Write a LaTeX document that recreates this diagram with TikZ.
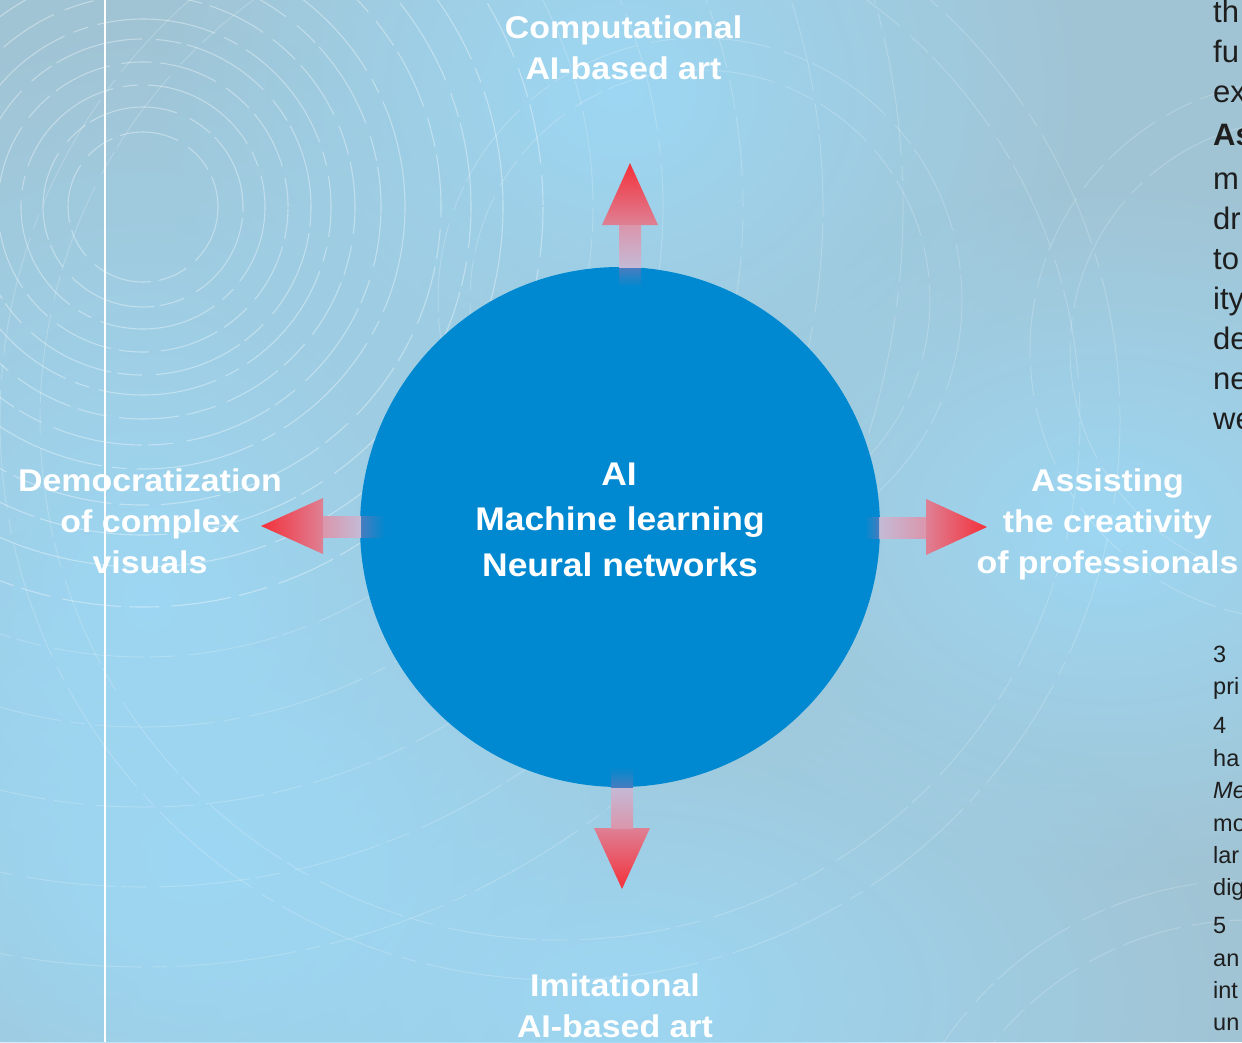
\documentclass[tikz,border=0pt]{standalone}
\usepackage{fontspec}
\setmainfont{Liberation Sans}
\newfontfamily\labelfont[FakeStretch=1.08]{Liberation Sans}
\usetikzlibrary{fadings}
\definecolor{bggrey}{RGB}{161,196,212}
\definecolor{bglight}{RGB}{157,215,243}
\definecolor{circblue}{RGB}{0,137,208}
\definecolor{arrred}{RGB}{244,48,58}
\definecolor{arrpink}{RGB}{222,128,148}
\definecolor{shaftpink}{RGB}{218,150,172}
\definecolor{shaftlav}{RGB}{196,186,214}
\definecolor{shaftblue}{RGB}{70,125,190}
\definecolor{bodytext}{RGB}{30,30,30}
\tikzfading[name=glowfade, inner color=transparent!0, outer color=transparent!100]
\begin{document}
\begin{tikzpicture}[x=1pt,y=-1pt,
  lbl/.style={font=\labelfont\bfseries\fontsize{31.4}{38}\selectfont, text=white, anchor=base, inner sep=0pt},
  corelbl/.style={font=\labelfont\bfseries\fontsize{32.8}{40}\selectfont, text=white, anchor=base, inner sep=0pt},
  body/.style={font=\fontsize{31}{37}\selectfont, text=bodytext, anchor=base west, inner sep=0pt},
  note/.style={font=\fontsize{23.5}{28}\selectfont, text=bodytext, anchor=base west, inner sep=0pt},
  deco/.style={draw=white, line width=1.1pt, draw opacity=0.36},
  decofaint/.style={draw=white, line width=1pt, draw opacity=0.2},
  dA/.style={dash pattern=on 60pt off 12pt on 30pt off 8pt},
  dB/.style={dash pattern=on 25pt off 6pt on 90pt off 14pt},
  dC/.style={dash pattern=on 120pt off 10pt on 15pt off 10pt},
  glow/.style={fill=bglight, path fading=glowfade}]
\useasboundingbox (0,0) rectangle (1242,1042);
\clip (0,0) rectangle (1242,1042);
% background
\fill[bggrey] (0,0) rectangle (1242,1042);
\fill[glow] (620,90) ellipse (470 and 420);
\fill[glow] (150,600) ellipse (520 and 580);
\fill[glow] (1110,530) ellipse (470 and 350);
\fill[glow] (620,1000) ellipse (620 and 380);
\fill[glow] (200,860) ellipse (440 and 360);
% decorative dashed circles, top left
\foreach \r/\s/\ph in {75/dA/0, 100/dB/20, 122/dC/40, 145/dA/70, 168/dB/5, 188/dC/90,
  212/dA/33, 238/dB/61, 262/dC/12, 298/dA/50, 328/dB/80, 360/dC/25, 400/dA/10}
  \draw[deco,\s,dash phase=\ph pt] (143,207) circle (\r);
\foreach \r/\s/\ph in {450/dB/0, 520/dC/30, 600/dA/60, 680/dB/15, 760/dC/45}
  \draw[decofaint,\s,dash phase=\ph pt] (143,207) circle (\r);
% decorative arcs, right side
\foreach \r/\s/\ph in {230/dA/0, 262/dB/30}
  \draw[decofaint,\s,dash phase=\ph pt] (700,300) circle (\r);
\foreach \r/\s/\ph in {230/dC/10, 270/dA/40}
  \draw[decofaint,\s,dash phase=\ph pt] (1300,350) circle (\r);
\foreach \r/\s/\ph in {520/dB/0, 560/dC/35}
  \draw[decofaint,\s,dash phase=\ph pt] (560,420) circle (\r);
\foreach \r/\s/\ph in {330/dA/5, 370/dB/50}
  \draw[decofaint,\s,dash phase=\ph pt] (1250,1250) circle (\r);
% vertical rule
\draw[white, line width=2pt] (105,0) -- (105,1042);
% central circle
\node[circle, fill=circblue, minimum size=520pt, inner sep=0pt] (core) at (620,527) {};
% arrows: head, shaft outside circle, shaft end inside circle
% up
\shade[top color=arrred, bottom color=arrpink] (630,163) -- (658,225) -- (602,225) -- cycle;
\shade[top color=shaftpink, bottom color=shaftlav] (619,225) rectangle (641,268);
\shade[top color=shaftblue, bottom color=circblue] (619,268) rectangle (641,287);
% down
\shade[bottom color=arrred, top color=arrpink] (622,889) -- (650,828) -- (594,828) -- cycle;
\shade[bottom color=shaftpink, top color=shaftlav] (611,787) rectangle (633,828);
\shade[bottom color=shaftblue, top color=circblue] (611,767) rectangle (633,787);
% left
\shade[left color=arrred, right color=arrpink] (261,526) -- (323,498) -- (323,554) -- cycle;
\shade[left color=shaftpink, right color=shaftlav] (323,516) rectangle (361,537);
\shade[left color=shaftblue, right color=circblue] (361,516) rectangle (385,537);
% right
\shade[right color=arrred, left color=arrpink] (987,527) -- (926,499) -- (926,555) -- cycle;
\shade[right color=shaftpink, left color=shaftlav] (879,517) rectangle (926,538);
\shade[right color=shaftblue, left color=circblue] (865,517) rectangle (879,538);
% core labels
\node[corelbl] (c1) at (619,485) {AI};
\node[corelbl] (c2) at (620,530.5) {Machine learning};
\node[corelbl] (c3) at (620,576) {Neural networks};
% outer labels
\node[lbl] (t1) at (623.5,38.5) {Computational};
\node[lbl] (t2) at (623.5,79.5) {AI-based art};
\node[lbl] (l1) at (150,491) {Democratization};
\node[lbl] (l2) at (150,532) {of complex};
\node[lbl] (l3) at (150,573) {visuals};
\node[lbl] (r1) at (1107.5,491) {Assisting};
\node[lbl] (r2) at (1107.5,532) {the creativity};
\node[lbl] (r3) at (1107.5,573) {of professionals};
\node[lbl] (b1) at (615,996.5) {Imitational};
\node[lbl] (b2) at (615,1037) {AI-based art};
% cut-off body text at right edge
\node[body] (p1) at (1213,22) {th};
\node[body] (p2) at (1213,62) {fu};
\node[body] (p3) at (1213,102) {ex};
\node[body, font=\bfseries\fontsize{31}{37}\selectfont] (p4) at (1213,145) {As};
\node[body] (p5) at (1213,189) {m};
\node[body] (p6) at (1213,229) {dr};
\node[body] (p7) at (1213,269) {to};
\node[body] (p8) at (1213,309) {ity};
\node[body] (p9) at (1213,349) {de};
\node[body] (p10) at (1213,389) {ne};
\node[body] (p11) at (1213,429) {we};
% cut-off footnotes
\node[note] (n1) at (1213,662) {3};
\node[note] (n2) at (1213,694) {pri};
\node[note] (n3) at (1213,733) {4};
\node[note] (n4) at (1213,766) {ha};
\node[note, font=\itshape\fontsize{23.5}{28}\selectfont] (n5) at (1213,798) {Me};
\node[note] (n6) at (1213,831) {mo};
\node[note] (n7) at (1213,863) {lar};
\node[note] (n8) at (1213,895) {dig};
\node[note] (n9) at (1213,933) {5};
\node[note] (n10) at (1213,966) {an};
\node[note] (n11) at (1213,998) {int};
\node[note] (n12) at (1213,1030) {un};
\end{tikzpicture}
\end{document}
